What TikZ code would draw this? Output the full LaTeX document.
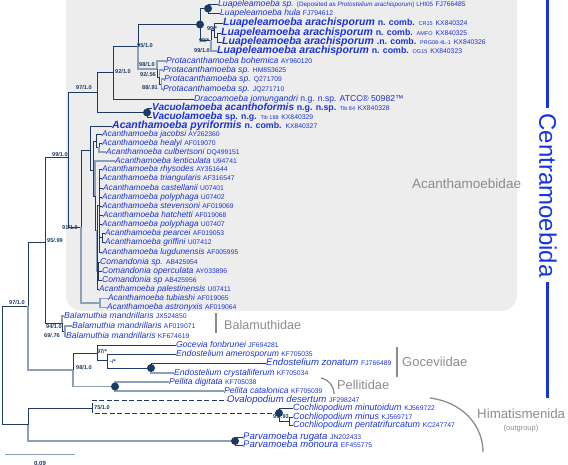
\documentclass[tikz,border=0pt]{standalone}
\usepackage{fontspec}
\setmainfont{Liberation Sans}
\definecolor{navy}{HTML}{1B3A66}
\definecolor{steel}{HTML}{8DA0BA}
\definecolor{leafblue}{HTML}{1A33D6}
\definecolor{grouptxt}{HTML}{8C8C8C}
\definecolor{centblue}{HTML}{1235E0}
\definecolor{boxgray}{HTML}{EDEDED}
\newcommand{\accno}[1]{{\upshape\mdseries\fontsize{6.8}{7}\selectfont #1}}
\newcommand{\strn}[1]{{\upshape\mdseries\fontsize{5.5}{6}\selectfont #1}}
\newcommand{\ncomb}[1]{{\upshape\fontsize{8.8}{9}\selectfont #1}}

\begin{document}
\begin{tikzpicture}[x=1pt,y=-1pt,
  leaf/.style={anchor=west,inner sep=0pt,text height=5.8pt,text depth=1.6pt,text=leafblue,font=\fontsize{8.6}{9}\selectfont\itshape},
  acleaf/.style={leaf,font=\fontsize{8.3}{9}\selectfont\itshape},
  wideleaf/.style={leaf,font=\fontsize{9.6}{10}\selectfont\itshape},
  cocleaf/.style={leaf,font=\fontsize{9}{10}\selectfont\itshape},
  bigleaf/.style={leaf,text height=7pt,text depth=2pt,font=\fontsize{10.5}{11}\selectfont\bfseries\itshape},
  br/.style={navy,line width=0.8pt},
  brl/.style={steel,line width=1.3pt},
  supp/.style={inner sep=0pt,text=navy,font=\fontsize{5.6}{6}\selectfont\bfseries},
  dot/.style={circle,fill=navy,inner sep=0pt,minimum size=8pt},
  grp/.style={anchor=west,inner sep=0pt,text=grouptxt,font=\fontsize{13}{13}\selectfont},
  gline/.style={grouptxt,line width=1.3pt}]
\useasboundingbox (0,0) rectangle (568,465);
% Acanthamoebidae shading
\fill[boxgray,rounded corners=16pt] (66,-30) rectangle (517,311);

% internal nodes
\coordinate (nRoot) at (2,365);
\coordinate (nI) at (28,306);
\coordinate (nH) at (28,424.5);
\coordinate (nX) at (45,242);
\coordinate (nG) at (73,370);
\coordinate (nAc) at (68,157);
\coordinate (nBa) at (62,323.5);
\coordinate (nBb) at (65,331);
\coordinate (nV) at (97,92);
\coordinate (nAg) at (81,227);
\coordinate (nTop) at (113,72);
\coordinate (nVac) at (147,112.5);
\coordinate (nLP) at (138,46.5);
\coordinate (nA) at (200,24.5);
\coordinate (nB) at (208,8.5);
\coordinate (nC) at (211,40.5);
\coordinate (nD) at (214,30);
\coordinate (nE) at (217,37.5);
\coordinate (nP1) at (157,69);
\coordinate (nP2) at (159.5,77);
\coordinate (nP3) at (161.5,84);
\coordinate (nM) at (90,150);
\coordinate (nTA) at (100,303);
\coordinate (nR) at (93,170);
\coordinate (nJ) at (96,141);
\coordinate (nJh) at (99,147.5);
\coordinate (nS) at (95,196);
\coordinate (nT) at (97,230);
\coordinate (nU) at (99.5,205);
\coordinate (nPG) at (102,237.5);
\coordinate (nCom) at (98.5,271);
\coordinate (nGA) at (97,353);
\coordinate (nGB) at (107,360.5);
\coordinate (nGC) at (151,368);
\coordinate (nPel) at (115,386.5);
\coordinate (nO) at (92,408);
\coordinate (nCo) at (279,413);
\coordinate (nCc) at (289,421);
\coordinate (nPa) at (235,441);

% taxa
\node[leaf] (luaSp) at (218,4) {Luapeleamoeba sp. {\upshape\fontsize{6.3}{6}\selectfont (Deposited as \textit{Protostelium arachisporum}) LHI05} \accno{FJ766485}};
\node[leaf] (luaHula) at (220,13) {Luapeleamoeba hula \accno{FJ794612}};
\node[bigleaf] (arCR) at (223,23) {Luapeleamoeba arachisporum \ncomb{n. comb.} \strn{CR15} \accno{KX840324}};
\node[bigleaf] (arAM) at (221,33) {Luapeleamoeba arachisporum \ncomb{n. comb.} \strn{AMFO} \accno{KX840325}};
\node[bigleaf] (arPR) at (222,42) {Luapeleamoeba arachisporum \ncomb{.n. comb.} \strn{PRG08-4L-1} \accno{KX840326}};
\node[bigleaf] (arOG) at (217,51) {Luapeleamoeba arachisporum \ncomb{n. comb.} \strn{OG15} \accno{KX840323}};
\node[leaf] (protBo) at (166,61) {Protacanthamoeba bohemica \accno{AY960120}};
\node[leaf] (protHM) at (163,70) {Protacanthamoeba sp. \accno{HM853625}};
\node[leaf] (protQ) at (164,79) {Protacanthamoeba sp. \accno{Q271709}};
\node[leaf] (protJQ) at (163,89) {Protacanthamoeba sp. \accno{JQ271710}};
\node[leaf] (draco) at (194,99) {Dracoamoeba jomungandri {\upshape n.g. n.sp. ATCC® 50982™}};
\node[bigleaf,font=\fontsize{10}{10}\selectfont\bfseries\itshape] (vacA) at (152,108) {Vacuolamoeba acanthoformis \ncomb{n.g. n.sp.} \strn{Tib 84} \accno{KX840328}};
\node[bigleaf,font=\fontsize{10}{10}\selectfont\bfseries\itshape] (vacB) at (152,117) {Vacuolamoeba \ncomb{sp. n.g.} \strn{Tib 188} \accno{KX840329}};
\node[bigleaf] (pyri) at (112,126) {Acanthamoeba pyriformis \ncomb{n. comb.} \accno{KX840327}};
\node[acleaf] (jacob) at (102,134) {Acanthamoeba jacobsi \accno{AY262360}};
\node[acleaf] (healy) at (102,143) {Acanthamoeba healyi \accno{AF019070}};
\node[acleaf] (culb) at (106,152) {Acanthamoeba culbertsoni \accno{DQ499151}};
\node[acleaf] (lentic) at (115,161) {Acanthamoeba lenticulata \accno{U94741}};
\node[acleaf] (rhys) at (102,169.5) {Acanthamoeba rhysodes \accno{AY351644}};
\node[acleaf] (trian) at (102,178.5) {Acanthamoeba triangularis \accno{AF316547}};
\node[acleaf] (castel) at (103,188) {Acanthamoeba castellanii \accno{U07401}};
\node[acleaf] (polyA) at (102,197) {Acanthamoeba polyphaga \accno{U07402}};
\node[acleaf] (steven) at (102,206) {Acanthamoeba stevensoni \accno{AF019069}};
\node[acleaf] (hatch) at (103,215) {Acanthamoeba hatchetti \accno{AF019068}};
\node[acleaf] (polyB) at (102,224) {Acanthamoeba polyphaga \accno{U07407}};
\node[acleaf] (pearc) at (105,233) {Acanthamoeba pearcei \accno{AF019053}};
\node[acleaf] (griff) at (105,242) {Acanthamoeba griffini \accno{U07412}};
\node[acleaf] (lugd) at (102,252) {Acanthamoeba lugdunensis \accno{AF005995}};
\node[leaf] (comA) at (100,262) {Comandonia sp. \accno{AB425954}};
\node[leaf] (comB) at (102,271) {Comandonia operculata \accno{AY033896}};
\node[leaf] (comC) at (102,280) {Comandonia sp \accno{AB425956}};
\node[acleaf] (palest) at (99,289) {Acanthamoeba palestinensis \accno{U07411}};
\node[acleaf] (tubia) at (108,298.5) {Acanthamoeba tubiashi \accno{AF019065}};
\node[acleaf] (astro) at (107,307.5) {Acanthamoeba astronyxis \accno{AF019064}};
\node[leaf] (balA) at (64,316) {Balamuthia mandrillaris \accno{JX524850}};
\node[leaf] (balB) at (72,326) {Balamuthia mandrillaris \accno{AF019071}};
\node[leaf] (balC) at (66,336) {Balamuthia mandrillaris \accno{KF674619}};
\node[leaf] (goc) at (176,345.5) {Gocevia fonbrunei \accno{JF694281}};
\node[leaf] (endAm) at (176,354.5) {Endostelium amerosporum \accno{KF705035}};
\node[wideleaf] (endZo) at (266,363.5) {Endostelium zonatum \accno{FJ766489}};
\node[leaf] (endCr) at (174,373) {Endostelium crystalliferum \accno{KF705034}};
\node[leaf] (pelDi) at (169,382) {Pellita digitata \accno{KF705038}};
\node[leaf] (pelCa) at (224,391) {Pellita catalonica \accno{KF705039}};
\node[wideleaf] (ovalo) at (227,400) {Ovalopodium desertum \accno{JF298247}};
\node[cocleaf] (cocMi) at (293,408.5) {Cochliopodium minutoidum \accno{KJ569722}};
\node[cocleaf] (cocMn) at (293,417) {Cochliopodium minus \accno{KJ569717}};
\node[cocleaf] (cocPe) at (293,425.5) {Cochliopodium pentatrifurcatum \accno{KC247747}};
\node[wideleaf] (parRu) at (243,437) {Parvamoeba rugata \accno{JN202433}};
\node[wideleaf] (parMo) at (243,445.5) {Parvamoeba monoura \accno{EF455775}};

% branches
\draw[br] (nRoot) |- (nI);
\draw[br] (nRoot) |- (nH);
\draw[br] (nI) |- (nX);
\draw[brl] (nI) |- (nG);
\draw[br] (nX) |- (nAc);
\draw[br] (nX) |- (nBa);
\draw[br] (nAc) |- (nV);
\draw[br] (nAc) |- (nAg);
\draw[br] (nV) |- (nTop);
\draw[br] (nV) |- (nVac);
\draw[br] (nTop) |- (nLP);
\draw[br] (nTop) |- (draco.west);
\draw[br] (nLP) |- (nA);
\draw[brl] (nLP) |- (nP1);
\draw[br] (nA) |- (nB);
\draw[br] (nA) |- (nC);
\draw[br] (nB) |- (luaSp.west);
\draw[br] (nB) |- (luaHula.west);
\draw[br] (nC) |- (nD);
\draw[brl] (nC) |- (arOG.west);
\draw[br] (nD) |- (arCR.west);
\draw[br] (nD) |- (nE);
\draw[br] (nE) |- (arAM.west);
\draw[br] (nE) |- (arPR.west);
\draw[brl] (nP1) |- (protBo.west);
\draw[br] (nP1) |- (nP2);
\draw[brl] (nP2) |- (protHM.west);
\draw[br] (nP2) |- (nP3);
\draw[brl] (nP3) |- (protQ.west);
\draw[brl] (nP3) |- (protJQ.west);
\draw[br] (nVac) |- (vacA.west);
\draw[br] (nVac) |- (vacB.west);
\draw[br] (nAg) |- (nM);
\draw[brl] (nAg) |- (nTA);
\draw[br] (nM) |- (pyri.west);
\draw[br] (nM) |- (nR);
\draw[br] (nR) |- (nJ);
\draw[br] (nR) |- (nS);
\draw[br] (nJ) |- (jacob.west);
\draw[br] (nJ) |- (nJh);
\draw[br] (nJh) |- (healy.west);
\draw[brl] (nJh) |- (culb.west);
\draw[brl] (nS) |- (lentic.west);
\draw[br] (nS) |- (nT);
\draw[br] (nT) |- (nU);
\draw[brl] (nT) |- (nCom);
\draw[br] (nT) |- (palest.west);
\draw[br] (nU) |- (rhys.west);
\draw[br] (nU) |- (trian.west);
\draw[br] (nU) |- (castel.west);
\draw[br] (nU) |- (polyA.west);
\draw[br] (nU) |- (steven.west);
\draw[br] (nU) |- (hatch.west);
\draw[br] (nU) |- (polyB.west);
\draw[br] (nU) |- (nPG);
\draw[br] (nU) |- (lugd.west);
\draw[br] (nPG) |- (pearc.west);
\draw[br] (nPG) |- (griff.west);
\draw[br] (nCom) |- (comA.west);
\draw[br] (nCom) |- (comB.west);
\draw[br] (nCom) |- (comC.west);
\draw[brl] (nTA) |- (tubia.west);
\draw[brl] (nTA) |- (astro.west);
\draw[brl] (nBa) |- (balA.west);
\draw[br] (nBa) |- (nBb);
\draw[brl] (nBb) |- (balB.west);
\draw[brl] (nBb) |- (balC.west);
\draw[br] (nG) |- (nGA);
\draw[brl] (nG) |- (nPel);
\draw[br] (nGA) |- (goc.west);
\draw[br] (nGA) |- (nGB);
\draw[br] (nGB) |- (endAm.west);
\draw[br] (nGB) |- (nGC);
\draw[br] (nGC) |- (endZo.west);
\draw[brl] (nGC) |- (endCr.west);
\draw[brl] (nPel) |- (pelDi.west);
\draw[brl] (nPel) |- (pelCa.west);
\draw[br] (nH) |- (nO);
\draw[brl] (nH) |- (nPa);
\draw[br,dash pattern=on 5pt off 2.5pt] (nO) |- (ovalo.west);
\draw[br,dash pattern=on 5pt off 2.5pt] (nO) |- (nCo);
\draw[br] (nCo) |- (cocMi.west);
\draw[br] (nCo) |- (nCc);
\draw[br] (nCc) |- (cocMn.west);
\draw[br] (nCc) |- (cocPe.west);
\draw[br] (nPa) |- (parRu.west);
\draw[br] (nPa) |- (parMo.west);

% fully supported nodes
\node[dot] (dB) at (nB) {};
\node[dot] (dA) at (nA) {};
\node[dot] (dVac) at (nVac) {};
\node[dot] (dGC) at (nGC) {};
\node[dot] (dPel) at (nPel) {};
\node[dot] (dCo) at (nCo) {};
\node[dot] (dPa) at (nPa) {};

% support values
\node[supp] (s1) at (212,29) {99/*};
\node[supp] (s2) at (204,41) {99/*};
\node[supp] (s3) at (202,51) {99/1.0};
\node[supp] (s4) at (145,46) {95/1.0};
\node[supp] (s5) at (123,72) {92/1.0};
\node[supp] (s6) at (147,65) {98/1.0};
\node[supp] (s7) at (148,75) {92/.56};
\node[supp] (s8) at (150,88) {88/.91};
\node[supp] (s9) at (84,88) {97/1.0};
\node[supp] (s10) at (60,155) {99/1.0};
\node[supp] (s11) at (70,228) {91/1.0};
\node[supp] (s12) at (55,241) {95/.99};
\node[supp] (s13) at (17,303) {97/1.0};
\node[supp] (s14) at (54,327) {94/1.0};
\node[supp] (s15) at (52,336) {69/.76};
\node[supp] (s16) at (102,352) {97/*};
\node[supp] (s17) at (113,362) {-/*};
\node[supp] (s18) at (84,368) {98/1.0};
\node[supp] (s19) at (102,408) {75/1.0};
\node[supp] (s20) at (281,417) {99/.93};

% groups
\node[grp,font=\fontsize{13.5}{14}\selectfont] (gAcan) at (412,184) {Acanthamoebidae};
\node[grp,font=\fontsize{12.6}{13}\selectfont] (gBala) at (224,325) {Balamuthidae};
\draw[gline] (216,313) -- (216,333);
\node[grp] (gGoce) at (402,362) {Goceviidae};
\draw[gline] (397,347) -- (397,377);
\node[grp,font=\fontsize{12.8}{13}\selectfont] (gPell) at (337,385) {Pellitidae};
\draw[gline] (321,378) .. controls (329,380) and (334,386) .. (334,394);
\node[grp,font=\fontsize{13.3}{14}\selectfont] (gHima) at (477,414) {Himatismenida};
\node[inner sep=0pt,text=grouptxt,font=\fontsize{7.5}{8}\selectfont] (gOut) at (521,429) {(outgroup)};
\draw[gline] (430,398) .. controls (462,402) and (483,425) .. (483,452);
\node[rotate=-90,inner sep=0pt,text=centblue,font=\fontsize{24}{24}\selectfont] (gCent) at (548,195.5) {Centramoebida};
\draw[centblue,line width=3pt] (547,0) -- (547,108);
\draw[centblue,line width=3pt] (547,282) -- (547,398);

% scale
\draw[steel,line width=1pt] (5,454) -- (75,454);
\node[supp,font=\fontsize{6}{6}\selectfont\bfseries] (scl) at (40,463) {0.09};
\end{tikzpicture}
\end{document}
